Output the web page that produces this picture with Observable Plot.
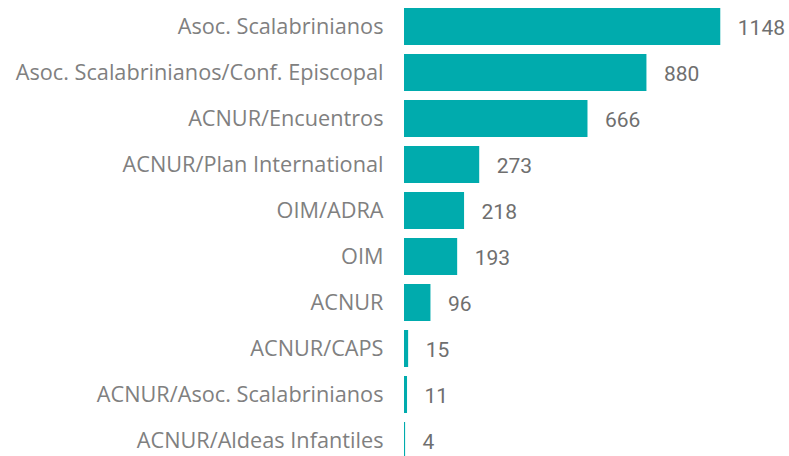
<!DOCTYPE html>
<html>
<head>
<meta charset="utf-8">
<script src="https://cdn.jsdelivr.net/npm/d3@7"></script>
<script src="https://cdn.jsdelivr.net/npm/@observablehq/plot@0.6"></script>
<style>
  html, body { margin: 0; padding: 0; background: #fff; }
</style>
</head>
<body>
<div id="chart"></div>
<script>
const categories = [
  "Asoc. Scalabrinianos",
  "Asoc. Scalabrinianos/Conf. Episcopal",
  "ACNUR/Encuentros",
  "ACNUR/Plan International",
  "OIM/ADRA",
  "OIM",
  "ACNUR",
  "ACNUR/CAPS",
  "ACNUR/Asoc. Scalabrinianos",
  "ACNUR/Aldeas Infantiles"
];
const values = [1148, 880, 666, 273, 218, 193, 96, 15, 11, 4];

const data = categories.map((c, i) => ({category: c, value: values[i]}));

const chart = Plot.plot({
  width: 789,
  height: 456,
  marginLeft: 404,
  marginRight: 0,
  marginTop: 0,
  marginBottom: 0,
  x: {domain: [0, 1400], range: [404, 404 + 1400 * 0.2755], axis: null},
  y: {domain: categories, range: [3.4, 464.4], padding: 0.2, paddingOuter: 0.1, axis: null},
  style: {background: "#fff"},
  marks: [
    Plot.barX(data, {x: "value", y: "category", fill: "#00abad"}),
    Plot.text(data, {
      x: 0, y: "category", text: "category",
      textAnchor: "end", dx: -21,
      fill: "#808080", fontSize: 21.7, fontWeight: 400, fontFamily: "Open Sans"
    }),
    Plot.text(data, {
      x: "value", y: "category", text: d => String(d.value),
      textAnchor: "start", dx: 17, dy: 1,
      fill: "#6f6f6f", fontSize: 21, fontWeight: 400, fontFamily: "Roboto"
    })
  ]
});
document.getElementById("chart").appendChild(chart);
</script>
</body>
</html>
